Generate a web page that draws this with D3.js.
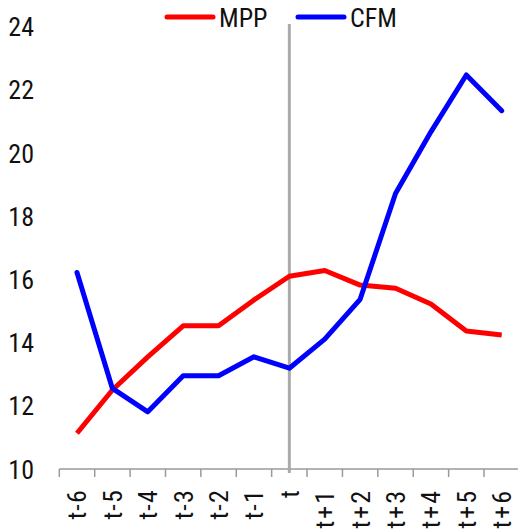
<!DOCTYPE html>
<html>
<head>
<meta charset="utf-8">
<script src="https://cdn.jsdelivr.net/npm/d3@7"></script>
<style>
  body { margin: 0; background: #fff; }
  text { font-family: "Liberation Sans Narrow", "Arial Narrow", "Roboto Condensed", sans-serif; fill: #111; }
</style>
</head>
<body>
<div id="chart"></div>
<script>
// periods around t
const periods = ['t-6', 't-5', 't-4', 't-3', 't-2', 't-1', 't', 't+1', 't+2', 't+3', 't+4', 't+5', 't+6'];
const mpp = [11.13, 12.5, 13.55, 14.53, 14.53, 15.35, 16.1, 16.28, 15.82, 15.72, 15.22, 14.37, 14.24];
const cfm = [16.22, 12.55, 11.81, 12.95, 12.95, 13.55, 13.19, 14.11, 15.37, 18.72, 20.67, 22.47, 21.34];
const yTicks = [10, 12, 14, 16, 18, 20, 22, 24];

const width = 518, height = 531;

const svg = d3.select('#chart')
  .append('svg')
    .attr('width', width)
    .attr('height', height);

const x = d3.scaleBand()
  .domain(periods)
  .range([59.3, 519.4]);

const y = d3.scaleLinear()
  .domain([10, 24])
  .range([469, 26.6]);

// y labels, no axis line
svg.append('g')
  .attr('transform', 'translate(37,0)')
  .call(d3.axisLeft(y).tickValues(yTicks).tickSize(0).tickPadding(3))
  .call(g => g.select('.domain').remove())
  .selectAll('text')
    .style('font-size', '26px')
    .attr('dy', '0.35em');

// x axis line + boundary ticks
const xAxis = svg.append('g')
  .attr('transform', 'translate(0,' + y(10) + ')');

xAxis.append('line')
  .attr('x1', x.range()[0])
  .attr('x2', x.range()[1])
  .attr('stroke', '#9a9a9a')
  .attr('stroke-width', 1.5);

const bounds = periods.map(p => x(p)).concat([x.range()[1]]);
xAxis.selectAll('.bound')
  .data(bounds)
  .enter()
  .append('line')
    .attr('class', 'bound')
    .attr('x1', d => d)
    .attr('x2', d => d)
    .attr('y1', 0)
    .attr('y2', 8)
    .attr('stroke', '#9a9a9a')
    .attr('stroke-width', 1.5);

// rotated period labels
svg.append('g')
  .attr('transform', 'translate(0,' + y(10) + ')')
  .call(d3.axisBottom(x).tickSize(0))
  .call(g => g.select('.domain').remove())
  .selectAll('text')
    .style('font-size', '26px')
    .style('letter-spacing', d => d.includes('+') ? '2px' : '1.2px')
    .attr('transform', 'rotate(-90)')
    .attr('x', -20)
    .attr('y', 0)
    .attr('dy', '0.36em')
    .attr('text-anchor', 'end');

// vertical marker at t
svg.append('line')
  .attr('x1', x('t') + x.bandwidth() / 2)
  .attr('x2', x('t') + x.bandwidth() / 2)
  .attr('y1', 24)
  .attr('y2', 473)
  .attr('stroke', '#aaaaaa')
  .attr('stroke-width', 3);

const line = d3.line()
  .x((d, i) => x(periods[i]) + x.bandwidth() / 2)
  .y(d => y(d));

svg.append('path')
  .attr('d', line(mpp))
  .attr('fill', 'none')
  .attr('stroke', '#ff0000')
  .attr('stroke-width', 5)
  .attr('stroke-linejoin', 'round');

svg.append('path')
  .attr('d', line(cfm))
  .attr('fill', 'none')
  .attr('stroke', '#0000ff')
  .attr('stroke-width', 5)
  .attr('stroke-linejoin', 'round')
  .attr('stroke-linecap', 'round');

// legend
const legend = [
  {name: 'MPP', color: '#ff0000', x: 167},
  {name: 'CFM', color: '#0000ff', x: 298}
];
legend.forEach(l => {
  svg.append('line')
    .attr('x1', l.x)
    .attr('x2', l.x + 46)
    .attr('y1', 17)
    .attr('y2', 17)
    .attr('stroke', l.color)
    .attr('stroke-width', 5)
    .attr('stroke-linecap', 'round');
  svg.append('text')
    .attr('x', l.x + 52)
    .attr('y', 27)
    .style('font-size', '26px')
    .text(l.name);
});
</script>
</body>
</html>
